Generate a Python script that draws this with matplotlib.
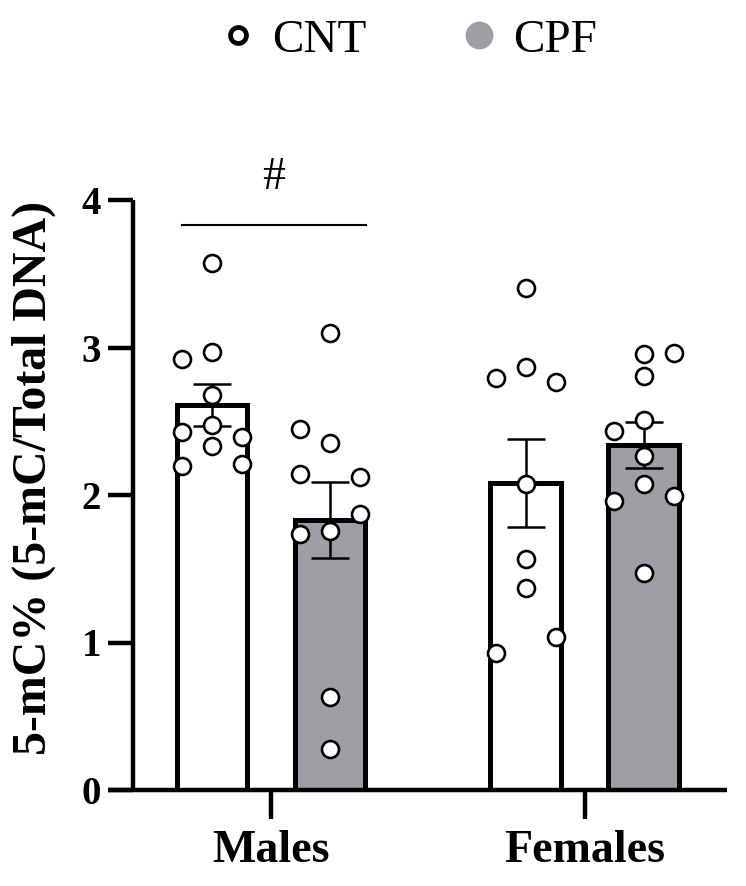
import matplotlib
matplotlib.use("Agg")
import matplotlib.pyplot as plt
import numpy as np
from matplotlib.lines import Line2D

plt.rcParams['font.family'] = ['Liberation Serif', 'DejaVu Serif']

# ---------------- data ----------------
groups = ["Males", "Females"]
series = ["CNT", "CPF"]

males_cnt = [3.575, 2.92, 2.97, 2.68, 2.475, 2.43, 2.39, 2.335, 2.20, 2.21]
males_cnt_cols = [0, -1, 0, 0, 0, -1, 1, 0, -1, 1]
males_cpf = [3.10, 2.445, 2.355, 2.14, 2.12, 1.87, 1.733, 1.757, 0.628, 0.278]
males_cpf_cols = [0, -1, 0, -1, 1, 1, -1, 0, 0, 0]
females_cnt = [3.405, 2.79, 2.865, 2.764, 2.075, 1.564, 1.372, 1.04, 0.927]
females_cnt_cols = [0, -1, 0, 1, 0, 0, 0, 1, -1]
females_cpf = [2.954, 2.965, 2.807, 2.508, 2.436, 2.264, 2.075, 1.961, 1.993, 1.473]
females_cpf_cols = [0, 1, 0, 0, -1, 0, 0, -1, 1, 0]

bar_means = [2.61, 1.83, 2.08, 2.34]
bar_sems = [0.14, 0.26, 0.30, 0.155]
bar_series = ["CNT", "CPF", "CNT", "CPF"]
sig_label = "#"
y_ticks = [0, 1, 2, 3, 4]
y_label = "5-mC% (5-mC/Total DNA)"

# ---------------- style ----------------
colors = {"CNT": "white", "CPF": "#9f9ea4"}
positions = [0.0, 1.0, 2.66, 3.66]
group_centers = [0.5, 3.16]
bar_width = 0.60
jitter = 0.255

W, H = 746, 886
fig = plt.figure(figsize=(W / 100, H / 100), dpi=100)
left_px, right_px, bottom_px, top_px = 108, 727, 790, 200
ax = fig.add_axes([left_px / W, 1 - bottom_px / H, (right_px - left_px) / W, (bottom_px - top_px) / H])

ux = 118.0  # px per unit in x
x0 = 212.0  # px of position 0
uy = (bottom_px - top_px) / 4.0
ax.set_xlim((left_px - x0) / ux, (right_px - x0) / ux)
ax.set_ylim(0, 4)

spine_x = (133 - x0) / ux
ax.spines['left'].set_position(('data', spine_x))
ax.spines['right'].set_visible(False)
ax.spines['top'].set_visible(False)
for s in ['left', 'bottom']:
    ax.spines[s].set_linewidth(3.2)
    ax.spines[s].set_capstyle('butt')

# bars
for p, m, s, ser in zip(positions, bar_means, bar_sems, bar_series):
    ax.bar(p, m, width=bar_width, color=colors[ser], edgecolor='black', linewidth=3.6, zorder=2)
    ax.errorbar(p, m, yerr=s, fmt='none', ecolor='black', elinewidth=1.8, capsize=14, capthick=1.8, zorder=3)

# points
all_pts = [(males_cnt, males_cnt_cols), (males_cpf, males_cpf_cols),
           (females_cnt, females_cnt_cols), (females_cpf, females_cpf_cols)]
for p, (vals, cols) in zip(positions, all_pts):
    xs = [p + c * jitter for c in cols]
    ax.plot(xs, vals, linestyle='none', marker='o', markersize=12.2, markerfacecolor='white',
            markeredgecolor='black', markeredgewidth=1.9, zorder=4, clip_on=False)

# significance
ax.plot([(182 - x0) / ux, (366 - x0) / ux], [(bottom_px - 225) / uy] * 2, color='black', lw=1.5, zorder=3)
ax.text((274 - x0) / ux, (bottom_px - 189) / uy, sig_label, ha='center', va='baseline', fontsize=33)

# ticks
ax.set_yticks(y_ticks)
ax.set_yticklabels([str(t) for t in y_ticks], fontsize=28, fontweight='bold')
ax.tick_params(axis='y', direction='out', length=18, width=3.2, pad=5)
ax.set_xticks(group_centers)
ax.set_xticklabels(groups, fontsize=33, fontweight='bold')
ax.tick_params(axis='x', direction='out', length=21, width=3.2, pad=8)

fig.text(34 / W, 1 - 478 / H, y_label, rotation=90, ha='center', va='center',
         fontsize=34.5, fontweight='bold')

# legend
handles = [Line2D([], [], linestyle='none', marker='o', markersize=11.5, markerfacecolor='white',
                  markeredgecolor='black', markeredgewidth=3.4),
           Line2D([], [], linestyle='none', marker='o', markersize=20, markerfacecolor=colors["CPF"],
                  markeredgecolor=colors["CPF"], markeredgewidth=0)]
fig.legend(handles, series, loc='center', bbox_to_anchor=(408 / W, 1 - 40 / H), ncol=2,
           frameon=False, fontsize=34, handletextpad=0.32, columnspacing=2.0, handlelength=0.8)

fig.savefig("out.png", dpi=100)
